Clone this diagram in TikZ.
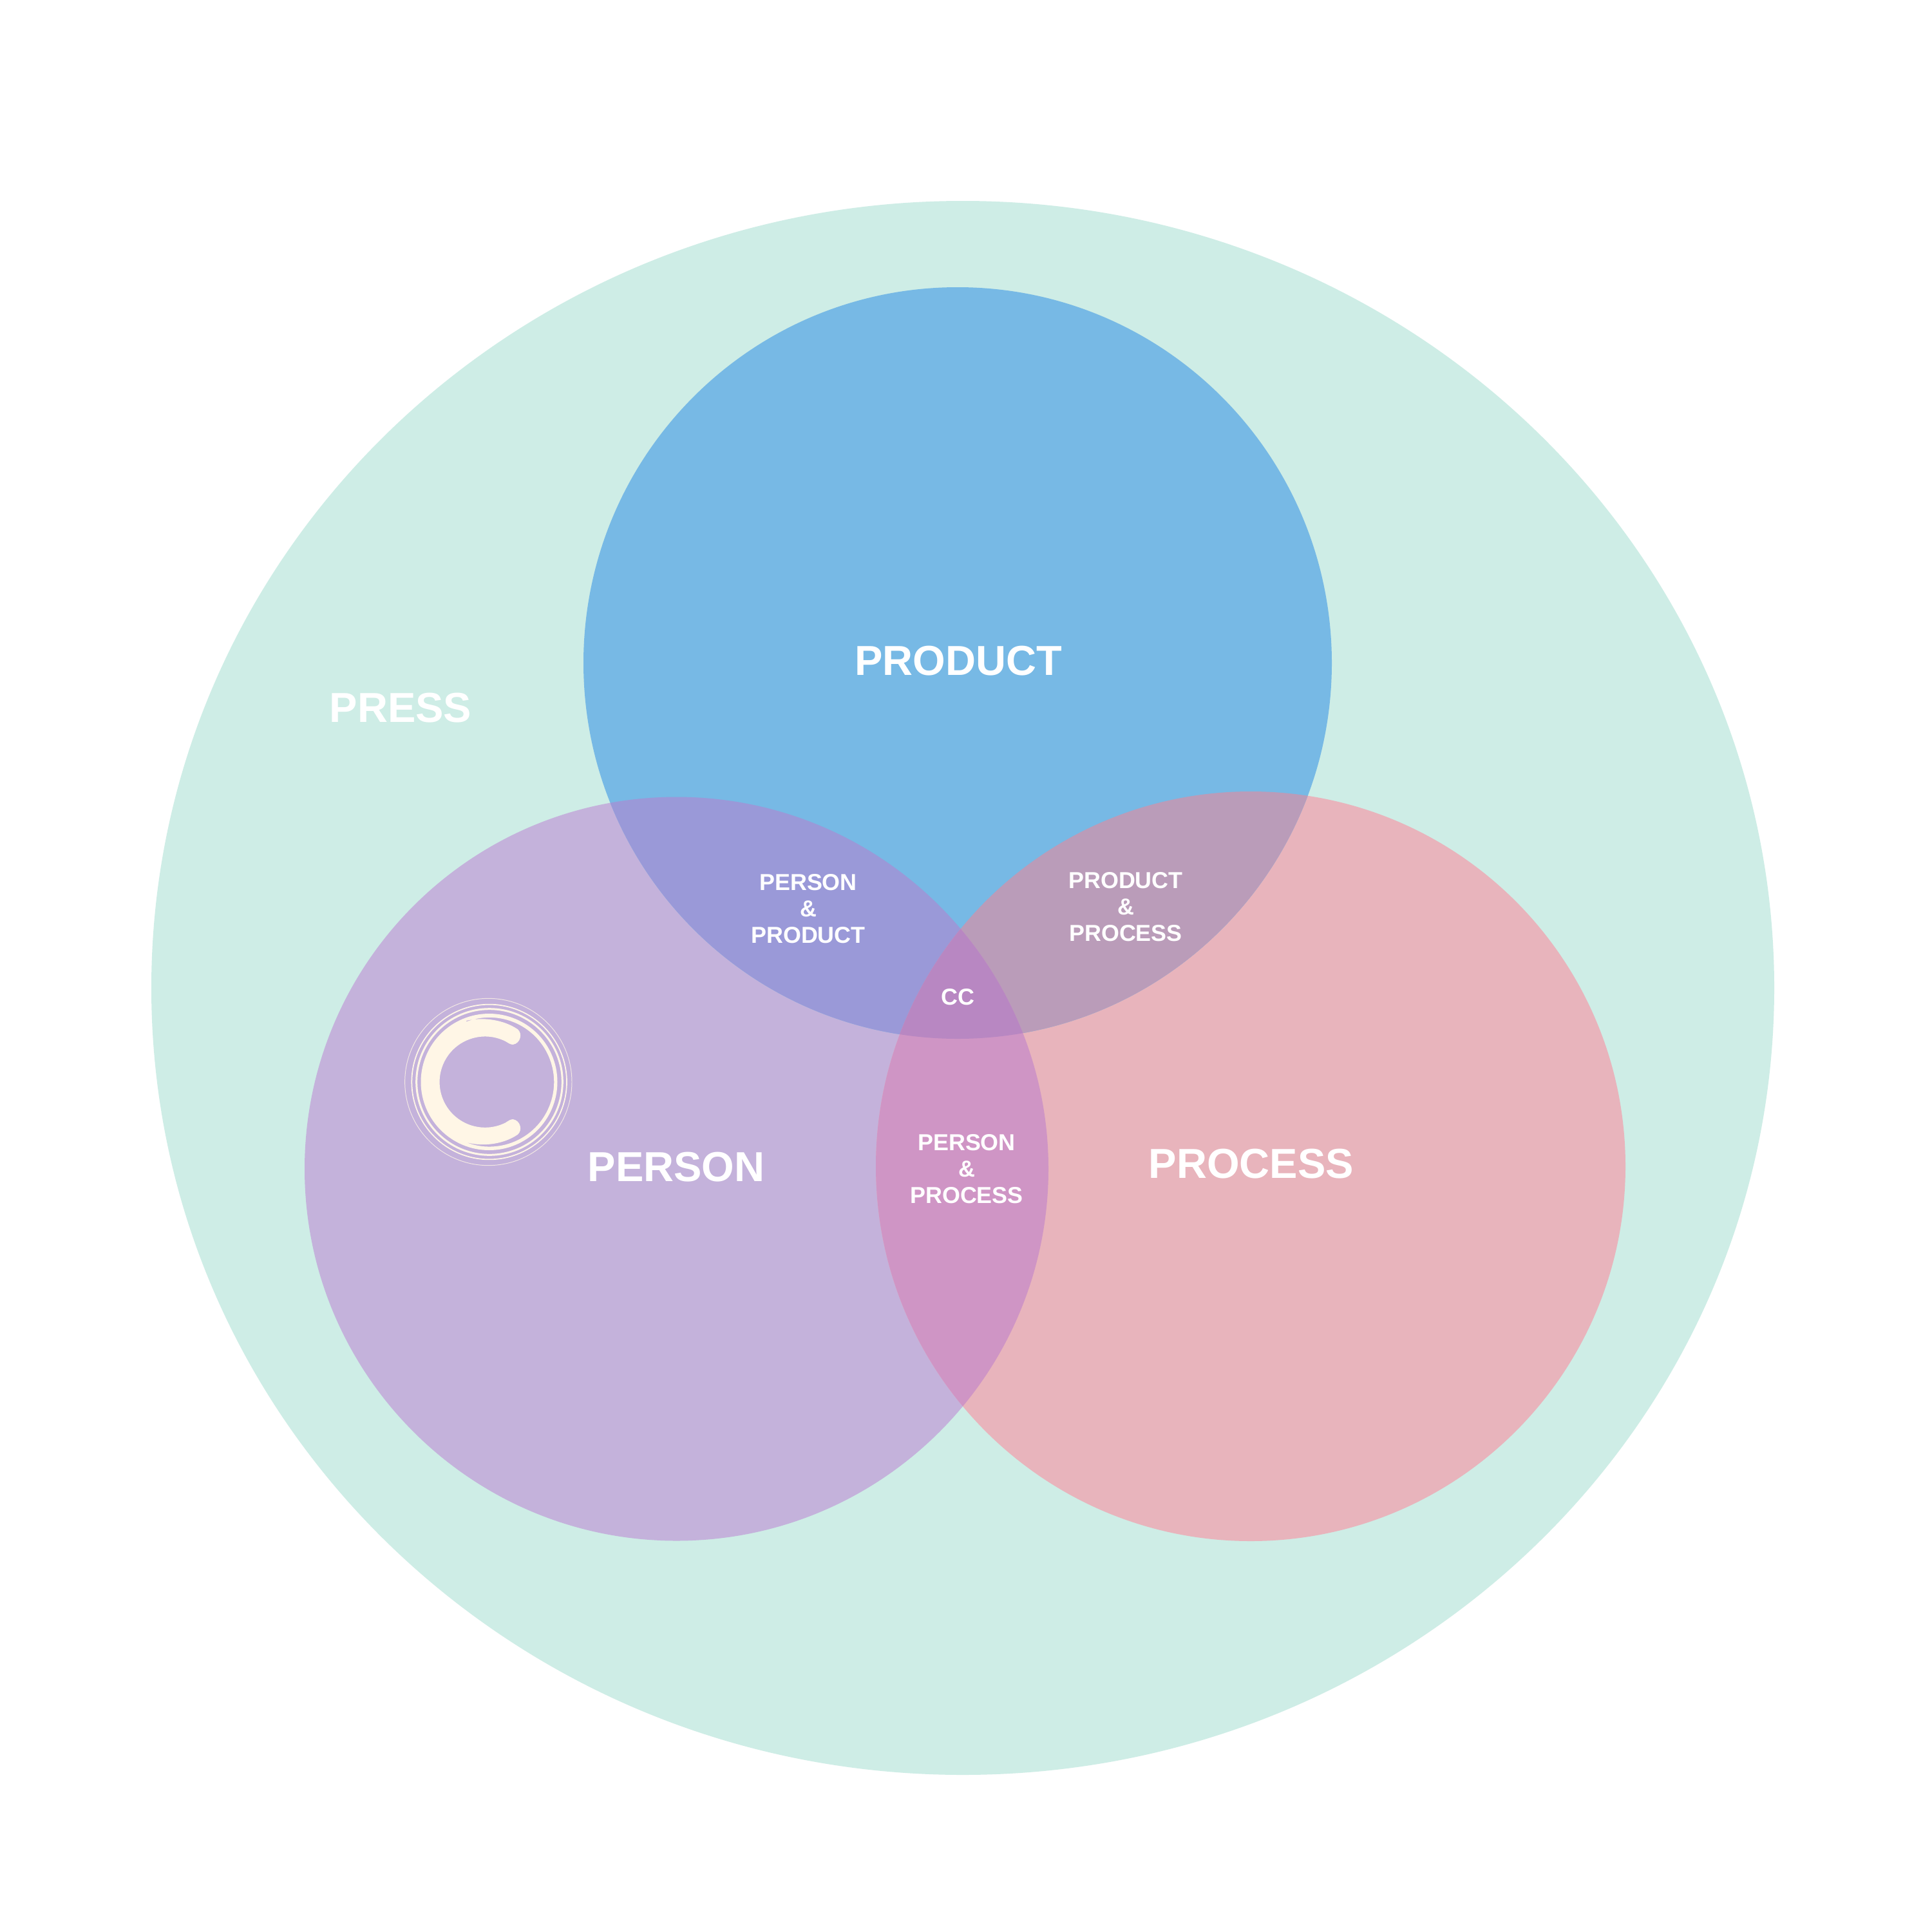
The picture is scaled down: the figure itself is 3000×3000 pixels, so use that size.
\documentclass[tikz,border=0pt]{standalone}
\usepackage{fontspec}
\setmainfont{Liberation Sans}
\definecolor{cPress}{HTML}{CEEDE6}
\definecolor{cProduct}{HTML}{77B9E5}
\definecolor{cPerson}{HTML}{C4B2DB}
\definecolor{cProcess}{HTML}{E8B4BC}
\definecolor{cPerProd}{HTML}{9A99D8}
\definecolor{cProdProc}{HTML}{BA9CB9}
\definecolor{cPerProc}{HTML}{CF95C5}
\definecolor{cCC}{HTML}{B887C2}
\definecolor{cCream}{HTML}{FFF6E6}
\tikzset{
  biglabel/.style={text=white,inner sep=0pt,anchor=base,font=\fontsize{18.5}{22}\selectfont\bfseries},
  smalllabel/.style={text=white,inner sep=0pt,align=center,font=\fontsize{10.2}{11.66}\selectfont\bfseries},
  ccring/.style={draw=cCream}
}
\def\pathProduct{(1487,1029.5) ellipse[x radius=581,y radius=583.5]}
\def\pathPerson{(1050.5,1815) circle[radius=577.5]}
\def\pathProcess{(1942,1811) circle[radius=582]}
\begin{document}
\begin{tikzpicture}[x=0.01cm,y=-0.01cm]
\useasboundingbox (0,0) rectangle (3000,3000);
\fill[white] (0,0) rectangle (3000,3000);
\fill[cPress] (1495,1534) ellipse[x radius=1260,y radius=1222];
\fill[cPerson] \pathPerson;
\fill[cProcess] \pathProcess;
\fill[cProduct] \pathProduct;
\begin{scope}\clip \pathPerson; \fill[cPerProd] \pathProduct; \end{scope}
\begin{scope}\clip \pathProcess; \fill[cProdProc] \pathProduct; \end{scope}
\begin{scope}\clip \pathPerson; \fill[cPerProc] \pathProcess; \end{scope}
\begin{scope}\clip \pathPerson; \clip \pathProcess; \fill[cCC] \pathProduct; \end{scope}
% logo
\begin{scope}[shift={(600,1520)},scale=0.33333]
\draw[ccring,line width=0.28pt,opacity=.8] (475,480) circle[radius=389];
\draw[ccring,line width=0.5pt] (479,480) circle[radius=361];
\draw[ccring,line width=0.85pt] (480,480) circle[radius=340];
\fill[cCream,even odd rule] (478.5,480) circle[radius=318]
  (372,195) .. controls (440,178) and (540,186) .. (612,235)
  .. controls (635,255) and (625,300) .. (590,306)
  .. controls (578,306) and (570,300) .. (555,291)
  arc[start angle=-63.3,end angle=-296.7,radius=212]
  .. controls (570,660) and (578,654) .. (590,654)
  .. controls (625,660) and (635,705) .. (612,725)
  .. controls (540,774) and (440,782) .. (368,760)
  arc[start angle=111.8,end angle=-110.8,radius=301] -- cycle;
\end{scope}
% labels
\node[biglabel] (press) at (622,1121) {PRESS};
\node[biglabel] (product) at (1488,1048) {PRODUCT};
\node[biglabel] (person) at (1050,1834) {PERSON};
\node[biglabel] (process) at (1943,1829) {PROCESS};
\node[smalllabel] (perprod) at (1255,1411) {PERSON\\\&\\PRODUCT};
\node[smalllabel] (prodproc) at (1748,1408) {PRODUCT\\\&\\PROCESS};
\node[smalllabel] (perproc) at (1501,1815) {PERSON\\\&\\PROCESS};
\node[smalllabel] (cc) at (1487,1548) {CC};
\end{tikzpicture}
\end{document}
